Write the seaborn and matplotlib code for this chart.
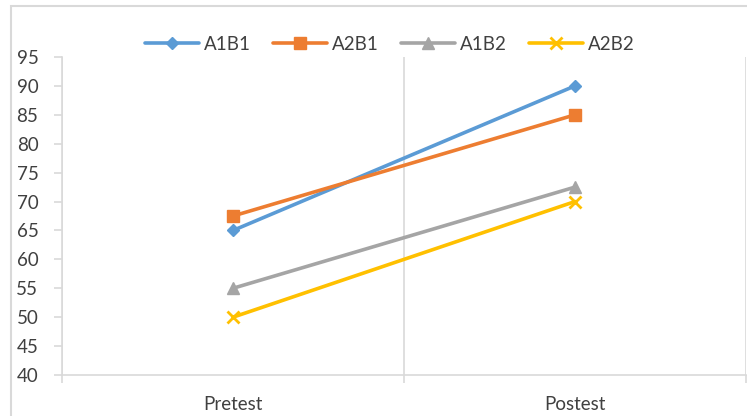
import pandas as pd
import matplotlib.pyplot as plt
import seaborn as sns
from matplotlib.patches import Rectangle
from matplotlib.lines import Line2D

# data
tests = ["Pretest", "Postest"]
a1b1 = [65, 90]
a2b1 = [67.5, 85]
a1b2 = [55, 72.5]
a2b2 = [50, 70]
groups = ["A1B1", "A2B1", "A1B2", "A2B2"]

colors = ["#5B9BD5", "#ED7D31", "#A5A5A5", "#FFC000"]
markers = ["D", "s", "^", "x"]
msizes = [6, 8, 8, 9]

df = pd.DataFrame({"test": tests * 4,
                   "score": a1b1 + a2b1 + a1b2 + a2b2,
                   "group": [g for g in groups for _ in tests]})

sns.set_style("white")
plt.rcParams["font.family"] = ["Lato", "DejaVu Sans"]

fig = plt.figure(figsize=(7.47, 4.16), dpi=100)
ax = fig.add_axes([62 / 747, 41 / 416, 684 / 747, 318 / 416])

for g, c, m, s in zip(groups, colors, markers, msizes):
    sub = df[df["group"] == g]
    sns.lineplot(data=sub, x="test", y="score", ax=ax, color=c, marker=m,
                 markersize=s, markeredgecolor=c, markeredgewidth=2 if m == "x" else 1,
                 linewidth=2.6, legend=False)

ax.set_xlim(-0.5, 1.5)
ax.set_ylim(40, 95)
ax.set_yticks(range(40, 100, 5))
ax.set_xticks([0, 1])
ax.set_xticklabels(tests)
ax.set_xticks([-0.5, 0.5, 1.5], minor=True)
ax.set_xlabel("")
ax.set_ylabel("")

grey = "#d9d9d9"
ax.grid(False)
ax.grid(True, which="minor", axis="x", color=grey, linewidth=1.2)
for side in ["top", "right"]:
    ax.spines[side].set_visible(False)
for side in ["left", "bottom"]:
    ax.spines[side].set_color(grey)
    ax.spines[side].set_linewidth(1.2)

ax.tick_params(axis="y", which="major", length=6, width=1.2, color=grey,
               labelsize=13.5, labelcolor="#404040", pad=11, left=True)
ax.tick_params(axis="x", which="major", length=0, labelsize=13.5,
               labelcolor="#404040", pad=15)
ax.tick_params(axis="x", which="minor", length=6, width=1.2, color=grey, bottom=True)

handles = [Line2D([], [], color=c, marker=m, markersize=s, markeredgecolor=c,
                  markeredgewidth=2 if m == "x" else 1, linewidth=2.6)
           for c, m, s in zip(colors, markers, msizes)]
fig.legend(handles, groups, loc="center", bbox_to_anchor=(390 / 747, 1 - 44 / 416),
           ncol=4, frameon=False, fontsize=13.5, handlelength=2.85,
           columnspacing=1.2, handletextpad=0.28, labelcolor="#404040")

# chart-area border (only left and top are in the picture)
fig.patches.append(Rectangle((11 / 747, -0.1), 2, 0.1 + (416 - 6) / 416,
                             transform=fig.transFigure, fill=False,
                             edgecolor=grey, linewidth=1.5))

fig.savefig("out.png", dpi=100)
